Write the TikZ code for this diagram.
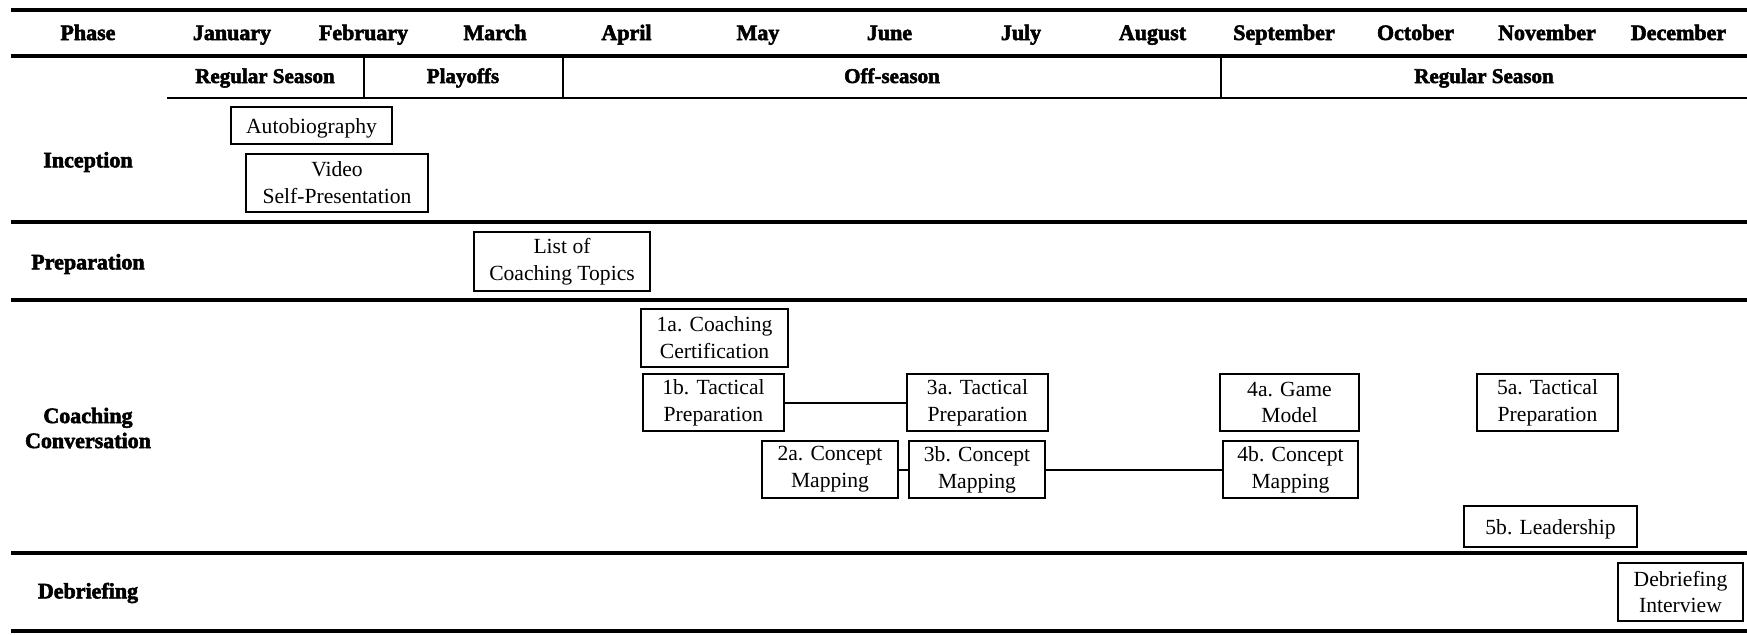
\documentclass[tikz,border=0pt]{standalone}
\usepackage{fontspec}
\setmainfont{Liberation Serif}
\newfontfamily\headfont{Liberation Serif Bold}[FakeBold=2.5]
\begin{document}
\begin{tikzpicture}[x=0.5pt,y=-0.5pt,
  heading/.style={font=\headfont\fontsize{11}{12}\selectfont, inner sep=0pt,
                  text height=7.5pt, text depth=2.5pt},
  phase/.style={font=\headfont\fontsize{11}{12.5}\selectfont, align=center, inner sep=0pt},
  season/.style={font=\headfont\fontsize{10.5}{12}\selectfont, inner sep=0pt,
                 text height=7.5pt, text depth=2.5pt},
  task/.style={draw, line width=1.1pt, font=\fontsize{10.8}{13.4}\selectfont,
               align=center, inner sep=0pt,
               execute at begin node={\rule{0pt}{10.5pt}}},
  rule/.style={line width=2pt},
  thinrule/.style={line width=1.3pt},
  divider/.style={line width=1pt},
  link/.style={line width=1pt}]
\useasboundingbox (0,0) rectangle (1747,634);

% table rules
\draw[rule] (11,10) -- (1747,10);
\draw[rule] (11,56) -- (1747,56);
\draw[thinrule] (167,98) -- (1747,98);
\draw[rule] (11,222) -- (1747,222);
\draw[rule] (11,300) -- (1747,300);
\draw[rule] (11,553) -- (1747,553);
\draw[rule] (11,631) -- (1747,631);
\draw[divider] (364,57) -- (364,97);
\draw[divider] (563,57) -- (563,97);
\draw[divider] (1221,57) -- (1221,97);

% header row
\node[heading] (phase) at (88,35) {Phase};
\foreach \m [count=\i] in {January,February,March,April,May,June,July,August,September,October,November,December}
  \node[heading] (m\i) at ({232+131.5*(\i-1)},35) {\m};

% seasons
\node[season] (s1) at (265,78) {Regular Season};
\node[season] (s2) at (463,78) {Playoffs};
\node[season] (s3) at (892,78) {Off-season};
\node[season] (s4) at (1484,78) {Regular Season};

% phase labels
\node[phase] (inception) at (88,162) {Inception};
\node[phase] (preparation) at (88,264) {Preparation};
\node[phase] (coaching) at (88,428) {Coaching\\Conversation};
\node[phase] (debriefing) at (88,593) {Debriefing};

% activities
\node[task, minimum width=80.5pt, minimum height=18.5pt] (auto) at (311.5,125.5) {Autobiography};
\node[task, minimum width=91pt, minimum height=29pt] (video) at (337,183) {Video\\Self-Presentation};
\node[task, minimum width=88pt, minimum height=29.5pt] (topics) at (562,261.5) {List of\\Coaching Topics};
\node[task, minimum width=73.5pt, minimum height=29pt] (c1a) at (714.5,338) {1a. Coaching\\Certification};
\node[task, minimum width=70.5pt, minimum height=28.5pt] (c1b) at (713.5,402.5) {1b. Tactical\\Preparation};
\node[task, minimum width=70.5pt, minimum height=28.5pt] (c3a) at (977.5,402.5) {3a. Tactical\\Preparation};
\node[task, minimum width=68pt, minimum height=28.5pt] (c2a) at (830,469.5) {2a. Concept\\Mapping};
\node[task, minimum width=68pt, minimum height=28.5pt] (c3b) at (977,469.5) {3b. Concept\\Mapping};
\node[task, minimum width=69.5pt, minimum height=28.5pt] (c4a) at (1289.5,402.5) {4a. Game\\Model};
\node[task, minimum width=67.5pt, minimum height=28.5pt] (c4b) at (1290.5,469.5) {4b. Concept\\Mapping};
\node[task, minimum width=70.5pt, minimum height=28.5pt] (c5a) at (1547.5,402.5) {5a. Tactical\\Preparation};
\node[task, minimum width=86.5pt, minimum height=20.5pt] (c5b) at (1550.5,526.5) {5b. Leadership};
\node[task, minimum width=62.5pt, minimum height=29pt] (debrief) at (1680.5,592) {Debriefing\\Interview};

% links between conversations
\draw[link] (c1b.east) -- (c3a.west);
\draw[link] (c2a.east) -- (c3b.west);
\draw[link] (c3b.east) -- (c4b.west);
\end{tikzpicture}
\end{document}
